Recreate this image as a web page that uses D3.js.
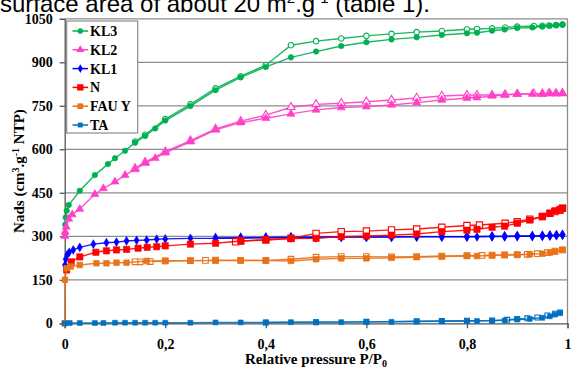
<!DOCTYPE html>
<html><head><meta charset="utf-8">
<script src="https://cdn.jsdelivr.net/npm/d3@7"></script>
<style>body{margin:0;background:#fff;}svg{display:block;}</style>
</head><body>
<script>
const seriesNames = ["KL3","KL2","KL1","N","FAU Y","TA"];
const xTicks = [0,0.2,0.4,0.6,0.8,1];
const xTickLabels = ["0","0,2","0,4","0,6","0,8","1"];
const yTicks = [0,150,300,450,600,750,900,1050];

const kl3AdsP = [0.0005,0.001,0.002,0.004,0.008,0.03,0.06,0.086,0.1,0.12,0.14,0.16,0.18,0.2,0.25,0.3,0.35,0.4,0.45,0.5,0.55,0.6,0.65,0.7,0.75,0.8,0.82,0.85,0.875,0.9,0.93,0.95,0.965,0.978,0.99];
const kl3AdsN = [310,340,365,388,408,457,511,549,569,595,623,646,672,699,749,804,848,884,917,937,956,969,979,986,994,1000,1002,1009,1013,1018,1020,1023,1026,1028,1030];
const kl3DesP = [0.99,0.977,0.963,0.95,0.933,0.9,0.876,0.85,0.82,0.8,0.75,0.7,0.65,0.6,0.55,0.5,0.45,0.4,0.35,0.3,0.25,0.2,0.16,0.14];
const kl3DesN = [1030,1028,1027,1026,1025,1023,1020,1017,1015,1014,1008,1004,998,991,982,973,959,890,852,810,755,704,650,627];

const kl2AdsP = [0.0005,0.001,0.003,0.008,0.015,0.03,0.06,0.077,0.1,0.12,0.14,0.16,0.18,0.2,0.25,0.3,0.35,0.4,0.45,0.5,0.55,0.6,0.65,0.7,0.75,0.8,0.82,0.85,0.875,0.9,0.93,0.95,0.965,0.978,0.99];
const kl2AdsN = [300,315,332,360,375,394,445,465,488,511,531,552,569,588,626,667,692,707,722,736,744,747,753,761,770,776,778,784,787,790,791,790,793,792,793];
const kl2DesP = [0.99,0.977,0.963,0.95,0.933,0.9,0.876,0.85,0.82,0.8,0.75,0.7,0.65,0.6,0.55,0.5,0.45,0.4,0.35,0.3,0.25,0.2,0.16,0.14];
const kl2DesN = [793,793,793,792,792,791,789,787,787,787,784,777,770,764,759,755,745,718,697,670,630,592,556,534];

const kl1AdsP = [0.0005,0.002,0.005,0.009,0.017,0.03,0.057,0.083,0.103,0.123,0.143,0.163,0.183,0.2,0.25,0.3,0.35,0.4,0.45,0.5,0.55,0.6,0.65,0.7,0.75,0.8,0.82,0.85,0.875,0.9,0.93,0.95,0.965,0.978,0.99];
const kl1AdsN = [201,221,236,245,253,262,273,278,280,284,286,287,290,291,293,293,294,295,296,296,297,297,297,298,298,298,298,299,299,300,300,301,302,303,305];
const kl1DesP = [0.99,0.978,0.965,0.95,0.93,0.9,0.875,0.85,0.8,0.75,0.7,0.65,0.6,0.55,0.5,0.45,0.4,0.35,0.3];
const kl1DesN = [305,304,303,302,301,301,300,300,299,299,299,298,298,298,297,297,296,295,294];

const nAdsP = [0.004,0.013,0.03,0.062,0.083,0.103,0.123,0.146,0.164,0.183,0.2,0.25,0.3,0.35,0.4,0.45,0.5,0.55,0.6,0.65,0.7,0.75,0.8,0.82,0.85,0.875,0.9,0.925,0.95,0.965,0.975,0.985,0.99];
const nAdsN = [184,212,229,245,250,253,255,259,262,264,267,273,276,284,287,292,293,299,301,304,308,316,321,324,331,335,345,356,368,380,388,393,397];
const nDesP = [0.99,0.985,0.975,0.965,0.95,0.925,0.9,0.876,0.825,0.8,0.75,0.7,0.65,0.6,0.55,0.5,0.45,0.4,0.35,0.34];
const nDesN = [397,390,385,379,368,359,350,345,339,337,331,325,322,318,316,310,293,288,284,281];

const fauAdsP = [0,0.0005,0.004,0.012,0.03,0.063,0.083,0.103,0.123,0.163,0.2,0.25,0.3,0.35,0.4,0.45,0.5,0.55,0.6,0.65,0.7,0.75,0.8,0.82,0.85,0.875,0.9,0.925,0.95,0.965,0.975,0.99];
const fauAdsN = [0,150,190,196,201,207,207,209,209,215,215,216,216,217,216,215,221,224,224,226,228,230,232,232,234,235,236,238,240,244,247,253];
const fauDesP = [0.99,0.975,0.96,0.94,0.92,0.9,0.875,0.85,0.83,0.8,0.75,0.7,0.65,0.6,0.55,0.5,0.45,0.4,0.35,0.3,0.28,0.25,0.2,0.17,0.15,0.14];
const fauDesN = [253,249,244,240,238,237,236,235,234,233,232,230,229,230,230,228,221,217,217,218,217,216,215,213,212,212];

const taAdsP = [0,0.01,0.03,0.06,0.077,0.1,0.12,0.14,0.16,0.18,0.2,0.25,0.3,0.35,0.4,0.45,0.5,0.55,0.6,0.65,0.7,0.75,0.8,0.82,0.85,0.875,0.9,0.925,0.95,0.965,0.975,0.985];
const taAdsN = [0,1,1,1,1,2,2,2,2,2,2,2,3,3,3,4,4,4,5,5,6,7,8,8,9,10,13,15,19,24,30,35];
const taDesP = [0.985,0.975,0.96,0.94,0.92,0.9,0.88,0.85,0.8,0.75,0.7,0.6,0.5,0.4];
const taDesN = [37,33,27,20,17,15,12,10,9,8,7,5,4,3];

const colors = ["#00B050","#FF3FC8","#0000FF","#FF0000","#E8731A","#0070C0"];
const shapes = ["circle","triangle","diamond","square","square","square"];
const markerSizes = [24,28,22,40,32,24];
const adsP = [kl3AdsP,kl2AdsP,kl1AdsP,nAdsP,fauAdsP,taAdsP];
const adsN = [kl3AdsN,kl2AdsN,kl1AdsN,nAdsN,fauAdsN,taAdsN];
const desP = [kl3DesP,kl2DesP,kl1DesP,nDesP,fauDesP,taDesP];
const desN = [kl3DesN,kl2DesN,kl1DesN,nDesN,fauDesN,taDesN];

const W=571,H=367;
const svg=d3.select("body").append("svg").attr("width",W).attr("height",H);
const x=d3.scaleLinear().domain([0,1]).range([64.7,567.5]);
const y=d3.scaleLinear().domain([0,1050]).range([323.3,18.8]);

// title fragment (cut by the top edge, as in the source)
svg.append("text").attr("x",0).attr("y",11.5).attr("font-family","Liberation Sans, Arial, sans-serif")
  .attr("font-size",24).attr("fill","#000")
  .html('surface area of about 20 m<tspan dy="-9" font-size="15">2</tspan><tspan dy="9">.g</tspan><tspan dy="-9" font-size="15">-1</tspan><tspan dy="9"> (table 1).</tspan>');

// grid
svg.append("g").selectAll("line").data(yTicks.filter(d=>d>0)).join("line")
  .attr("x1",x(0)).attr("x2",x(1)).attr("y1",d=>y(d)).attr("y2",d=>y(d))
  .attr("stroke","#8c8c8c").attr("stroke-width",1.3);
svg.append("line").attr("x1",x(1)).attr("x2",x(1)).attr("y1",y(0)).attr("y2",y(1050))
  .attr("stroke","#8c8c8c").attr("stroke-width",1.3);

// axes
const serif="Liberation Serif, Times New Roman, serif";
const yAxis=svg.append("g").attr("transform",`translate(${x(0)},0)`)
  .call(d3.axisLeft(y).tickValues(yTicks).tickSize(5).tickPadding(7).tickFormat(d3.format("d")));
const xAxis=svg.append("g").attr("transform",`translate(0,${y(0)})`)
  .call(d3.axisBottom(x).tickValues(xTicks).tickSize(5).tickPadding(11).tickFormat((d,i)=>xTickLabels[i]));
[yAxis,xAxis].forEach(a=>{
  a.select(".domain").attr("stroke","#555").attr("stroke-width",1.3);
  a.selectAll(".tick line").attr("stroke","#555").attr("stroke-width",1.3);
  a.selectAll("text").attr("font-family",serif).attr("font-weight","bold").attr("font-size",14).attr("fill","#000");
});

// axis titles
svg.append("text").attr("x",316).attr("y",364).attr("text-anchor","middle")
  .attr("font-family",serif).attr("font-weight","bold").attr("font-size",15)
  .html('Relative pressure P/P<tspan font-size="10" dy="3">0</tspan>');
svg.append("text").attr("transform","translate(24,171) rotate(-90)").attr("text-anchor","middle")
  .attr("font-family",serif).attr("font-weight","bold").attr("font-size",15)
  .html('Nads (cm<tspan font-size="10" dy="-5">3</tspan><tspan dy="5">.g</tspan><tspan font-size="10" dy="-5">-1</tspan><tspan dy="5"> NTP)</tspan>');

const symType={circle:d3.symbolCircle,triangle:d3.symbolTriangle,diamond:d3.symbolDiamond,square:d3.symbolSquare};
const line=d3.line().x(d=>x(d[0])).y(d=>y(d[1]));
const plot=svg.append("g");
seriesNames.forEach((name,i)=>{
  const g=plot.append("g");
  const ads=adsP[i].map((p,j)=>[p,adsN[i][j]]);
  const des=desP[i].map((p,j)=>[p,desN[i][j]]);
  const sym=d3.symbol().type(symType[shapes[i]]).size(markerSizes[i]);
  [[des,false],[ads,true]].forEach(([pts,filled])=>{
    g.append("path").datum(pts).attr("d",line).attr("fill","none")
      .attr("stroke",colors[i]).attr("stroke-width",1.4).attr("stroke-opacity",0.9);
    g.selectAll(null).data(pts).join("path")
      .attr("transform",d=>`translate(${x(d[0])},${y(d[1])})`)
      .attr("d",sym).attr("fill",filled?colors[i]:"#fff")
      .attr("stroke",colors[i]).attr("stroke-width",filled?0.6:1.1);
  });
});

// legend
const lg=svg.append("g");
lg.append("rect").attr("x",66.7).attr("y",21).attr("width",71).attr("height",112)
  .attr("fill","#fff").attr("stroke","#8c8c8c").attr("stroke-width",1.2);
seriesNames.forEach((name,i)=>{
  const ly=31+i*18.8;
  lg.append("line").attr("x1",72.5).attr("x2",88).attr("y1",ly).attr("y2",ly)
    .attr("stroke",colors[i]).attr("stroke-width",1.5);
  lg.append("path").attr("transform",`translate(80.3,${ly})`)
    .attr("d",d3.symbol().type(symType[shapes[i]]).size(markerSizes[i])).attr("fill",colors[i]);
  lg.append("text").attr("x",90).attr("y",ly+5).attr("font-family",serif).attr("font-weight","bold")
    .attr("font-size",14).text(name);
});
</script>
</body></html>
